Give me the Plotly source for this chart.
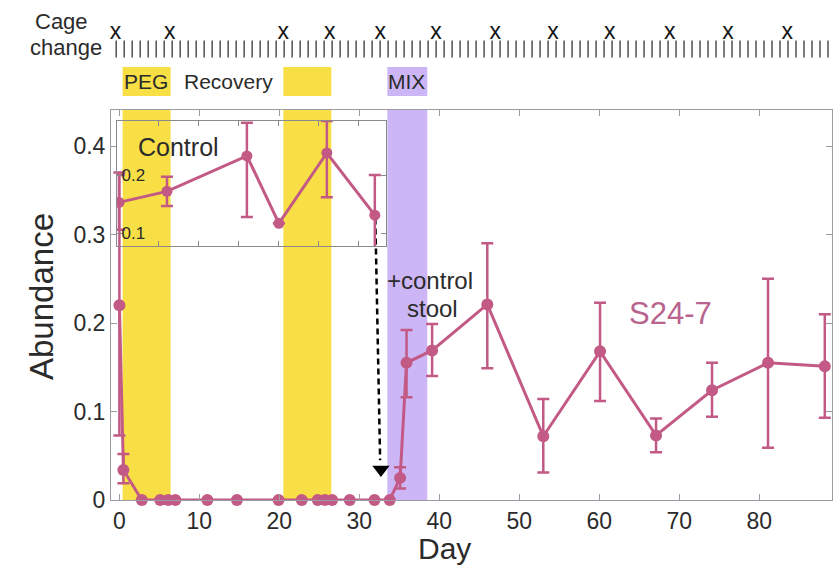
import plotly.graph_objects as go
import numpy as np

W, H = 838, 566
FONT = "Liberation Sans, Arial, Helvetica, sans-serif"
TXT = "#2b2b2b"
PINK = "#C25A85"
YELLOW = "#F8DF45"
PURPLE = "#CDB6F6"
AXC = "#9c9ca4"

# ---------------- data ----------------
days = [0, 0.5, 2.8, 5.1, 6.1, 7.0, 11, 14.7, 19.9, 22.8, 24.8, 25.7, 26.6, 28.8,
        31.9, 33.8, 35.1, 35.9, 39.1, 46, 53, 60.1, 67.1, 74.1, 81.1, 88.2]
abund = [0.22, 0.034, 0, 0, 0, 0, 0, 0, 0, 0, 0, 0, 0, 0,
         0, 0, 0.025, 0.155, 0.169, 0.221, 0.072, 0.168, 0.073, 0.124, 0.155, 0.151]
err_up = [0.15, 0.018, 0, 0, 0, 0, 0, 0, 0, 0, 0, 0, 0, 0,
          0, 0, 0.012, 0.037, 0.030, 0.069, 0.042, 0.055, 0.019, 0.031, 0.095, 0.059]
err_dn = [0.147, 0.015, 0, 0, 0, 0, 0, 0, 0, 0, 0, 0, 0, 0,
          0, 0, 0.012, 0.039, 0.029, 0.072, 0.041, 0.056, 0.019, 0.030, 0.096, 0.058]

inset_days = [0, 6, 16, 20, 26, 32]
inset_vals = [0.153, 0.172, 0.233, 0.117, 0.238, 0.131]
inset_up = [0.047, 0.025, 0.057, 0, 0.055, 0.069]
inset_dn = [0.047, 0.025, 0.105, 0, 0.076, 0.069]

cage_change_days = [-0.5, 6.3, 20.5, 26.3, 32.6, 39.6, 47, 54.2, 61.3, 68.8, 76.1, 83.5]
yellow_bands = [(0.4, 6.4), (20.5, 26.5)]
purple_bands = [(33.5, 38.5)]

x_ticks = [0, 10, 20, 30, 40, 50, 60, 70, 80]
y_ticks = [0, 0.1, 0.2, 0.3, 0.4]
y_ticklabels = ["0", "0.1", "0.2", "0.3", "0.4"]
inset_yticks = [0.1, 0.2]
inset_xticks = [5, 10, 15, 20, 25, 30]

strip_days = list(np.arange(-0.4, 89, 1.0))

# ---------------- layout helpers (pixel -> paper) ----------------
def px(x):
    return x / W

def py(y):
    return 1 - y / H

fig = go.Figure()

# main series
fig.add_trace(go.Scatter(
    x=days, y=abund, mode="lines+markers", xaxis="x", yaxis="y",
    line=dict(color=PINK, width=3),
    marker=dict(color=PINK, size=12),
    error_y=dict(type="data", array=err_up, arrayminus=err_dn, color=PINK,
                 thickness=2.5, width=6),
    cliponaxis=False, showlegend=False))

# inset series
fig.add_trace(go.Scatter(
    x=inset_days, y=inset_vals, mode="lines+markers", xaxis="x3", yaxis="y3",
    line=dict(color=PINK, width=3),
    marker=dict(color=PINK, size=11),
    error_y=dict(type="data", array=inset_up, arrayminus=inset_dn, color=PINK,
                 thickness=2.5, width=6),
    cliponaxis=True, showlegend=False))

# dashed arrow (decoration)
ARROW_X = [32.0, 32.6]
ARROW_Y = [0.318, 0.045]
fig.add_trace(go.Scatter(x=ARROW_X, y=ARROW_Y, mode="lines", xaxis="x", yaxis="y",
                         line=dict(color="black", width=2.5, dash="6px,4px"),
                         hoverinfo="skip", showlegend=False, cliponaxis=False))
fig.add_trace(go.Scatter(x=[32.7], y=[0.0345], mode="markers", xaxis="x", yaxis="y",
                         marker=dict(symbol="triangle-down", size=15, color="black"),
                         hoverinfo="skip", showlegend=False, cliponaxis=False))

# top strip: cage change marks and day ticks
fig.add_trace(go.Scatter(x=cage_change_days, y=[33] * len(cage_change_days),
                         mode="text", text=["x"] * len(cage_change_days),
                         textfont=dict(family=FONT, size=23, color="#151515"),
                         xaxis="x", yaxis="y2", showlegend=False, cliponaxis=False))
fig.add_trace(go.Scatter(x=strip_days, y=[49] * len(strip_days), mode="markers",
                         marker=dict(symbol="line-ns", size=12,
                                     line=dict(color="#505050", width=1.5)),
                         xaxis="x", yaxis="y2", showlegend=False, cliponaxis=False))

shapes = []
for a, b in yellow_bands:
    shapes.append(dict(type="rect", xref="x", yref="y domain", x0=a, x1=b, y0=0, y1=1,
                       fillcolor=YELLOW, line=dict(width=0), layer="below"))
    shapes.append(dict(type="rect", xref="x", yref="y2", x0=a, x1=b, y0=67, y1=96,
                       fillcolor=YELLOW, line=dict(width=0), layer="below"))
for a, b in purple_bands:
    shapes.append(dict(type="rect", xref="x", yref="y domain", x0=a, x1=b, y0=0, y1=1,
                       fillcolor=PURPLE, line=dict(width=0), layer="below"))
    shapes.append(dict(type="rect", xref="x", yref="y2", x0=a, x1=b, y0=67, y1=96,
                       fillcolor=PURPLE, line=dict(width=0), layer="below"))

ann = []
def note(text, x, y, size, color=TXT, angle=0, xanchor="center"):
    ann.append(dict(text=text, x=px(x), y=py(y), xref="paper", yref="paper",
                    showarrow=False, textangle=angle, xanchor=xanchor, yanchor="middle",
                    font=dict(family=FONT, size=size, color=color)))

note("Cage", 62, 21, 22)
note("change", 66, 47, 22)
note("Abundance", 41, 297, 33, angle=-90)
note("Day", 444, 548, 30)
note("S24-7", 670, 314, 31, color="#B8648E")
note("+control", 430, 280, 24)
note("stool", 432, 308, 24)
note("Control", 178, 147, 25)

for label, d in [("PEG", 3.3), ("Recovery", 13.6), ("MIX", 35.95)]:
    ann.append(dict(text=label, x=d, y=81, xref="x", yref="y2", showarrow=False,
                    font=dict(family=FONT, size=21, color=TXT)))

fig.update_layout(
    width=W, height=H, margin=dict(l=0, r=0, t=0, b=0, autoexpand=False), autosize=False,
    paper_bgcolor="white", plot_bgcolor="rgba(0,0,0,0)",
    font=dict(family=FONT, color=TXT),
    shapes=shapes, annotations=ann,
    xaxis=dict(domain=[px(111), px(832)], range=[-1.05, 89.1], anchor="y",
               tickvals=x_ticks, ticks="inside", ticklen=6, tickcolor=AXC,
               showline=True, linecolor=AXC, linewidth=1, mirror="ticks",
               showgrid=False, zeroline=False, automargin=False,
               tickfont=dict(family=FONT, size=23, color=TXT)),
    yaxis=dict(domain=[py(500), py(110)], range=[0, 0.4407], anchor="x",
               tickvals=y_ticks, ticktext=y_ticklabels, ticks="inside", ticklen=6,
               tickcolor=AXC, showline=True, linecolor=AXC, linewidth=1,
               mirror="ticks", showgrid=False, zeroline=False, automargin=False,
               tickfont=dict(family=FONT, size=23, color=TXT)),
    yaxis2=dict(domain=[py(110), 1], range=[110, 0], anchor="x", visible=False,
                fixedrange=True, automargin=False),
    xaxis3=dict(domain=[px(117), px(386)], range=[-0.25, 33.4], anchor="y3",
                tickvals=inset_xticks, showticklabels=False, ticks="inside",
                ticklen=5, tickcolor="#8a8a8a", showline=True, linecolor="#8a8a8a",
                mirror="ticks", showgrid=False, zeroline=False, automargin=False),
    yaxis3=dict(domain=[py(246), py(121)], range=[0.078, 0.293], anchor="x3",
                tickvals=inset_yticks, ticktext=["0.1", "0.2"], ticks="inside",
                ticklen=5, tickcolor="#8a8a8a", showline=True, linecolor="#8a8a8a",
                mirror="ticks", showgrid=False, zeroline=False, automargin=False,
                ticklabelposition="inside",
                tickfont=dict(family=FONT, size=17, color=TXT)),
)

fig.write_html("out.html", config={"responsive": False, "displayModeBar": False},
               post_script="document.body.style.margin='0';document.body.style.overflow='hidden';")
